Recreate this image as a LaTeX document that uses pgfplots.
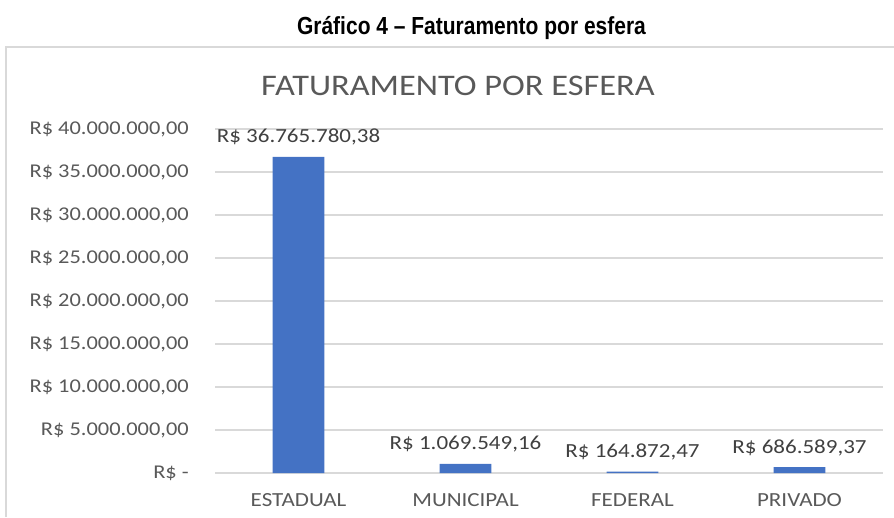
\documentclass[border=0pt]{standalone}
\usepackage{pgfplots}
\pgfplotsset{compat=1.18}
\usepackage{fontspec}
\setmainfont{Carlito}[FakeStretch=1.15]
\newfontfamily\headfont{Liberation Sans}[FakeStretch=0.85]
\definecolor{barblue}{HTML}{4472C4}
\definecolor{txtgray}{HTML}{595959}
\definecolor{lblgray}{HTML}{404040}
\definecolor{gridgray}{HTML}{D9D9D9}
\begin{document}
\begin{tikzpicture}[x=1pt,y=1pt]
\useasboundingbox (0,0) rectangle (894,517);
\draw[gridgray, line width=2pt] (6,0) -- (6,470) -- (894,470);
\node[anchor=base, inner sep=0pt] at (471.5,482) {\headfont\bfseries\fontsize{24.7}{26}\selectfont Gráfico 4 – Faturamento por esfera};
\node[anchor=base, inner sep=0pt, text=txtgray] at (458,421) {\fontsize{29.9}{31}\selectfont FATURAMENTO POR ESFERA};
\begin{axis}[
  at={(215pt,44pt)}, anchor=south west,
  scale only axis, width=668pt, height=344pt,
  xmin=-0.5, xmax=3.5, ymin=0, ymax=40000000,
  axis x line*=bottom, axis y line*=left,
  axis line style={draw=none},
  major tick length=0pt,
  xtick={0,1,2,3},
  xticklabels={ESTADUAL,MUNICIPAL,FEDERAL,PRIVADO},
  ytick={0,5000000,10000000,15000000,20000000,25000000,30000000,35000000,40000000},
  yticklabels={{R\$ -\hspace{11pt}},{R\$ 5.000.000,00},{R\$ 10.000.000,00},{R\$ 15.000.000,00},{R\$ 20.000.000,00},{R\$ 25.000.000,00},{R\$ 30.000.000,00},{R\$ 35.000.000,00},{R\$ 40.000.000,00}},
  scaled y ticks=false,
  ymajorgrids,
  major grid style={gridgray, line width=1.3pt},
  yticklabel style={anchor=east, inner sep=0pt, xshift=-26pt, text=txtgray, font=\fontsize{19.5}{20}\selectfont},
  xticklabel style={anchor=north, inner sep=0pt, yshift=-20pt, text=txtgray, font=\fontsize{20}{21}\selectfont},
  clip=false,
  ybar, bar width=51.6pt,
  nodes near coords,
  point meta=explicit symbolic,
  nodes near coords style={anchor=base, inner sep=0pt, yshift=14pt, text=lblgray, font=\fontsize{20}{21}\selectfont},
]
\addplot[fill=barblue, draw=none] coordinates {
  (0,36765780.38) [R\$ 36.765.780,38]
  (1,1069549.16) [R\$ 1.069.549,16]
  (2,164872.47) [R\$ 164.872,47]
  (3,686589.37) [R\$ 686.589,37]
};
\end{axis}
\end{tikzpicture}
\end{document}
